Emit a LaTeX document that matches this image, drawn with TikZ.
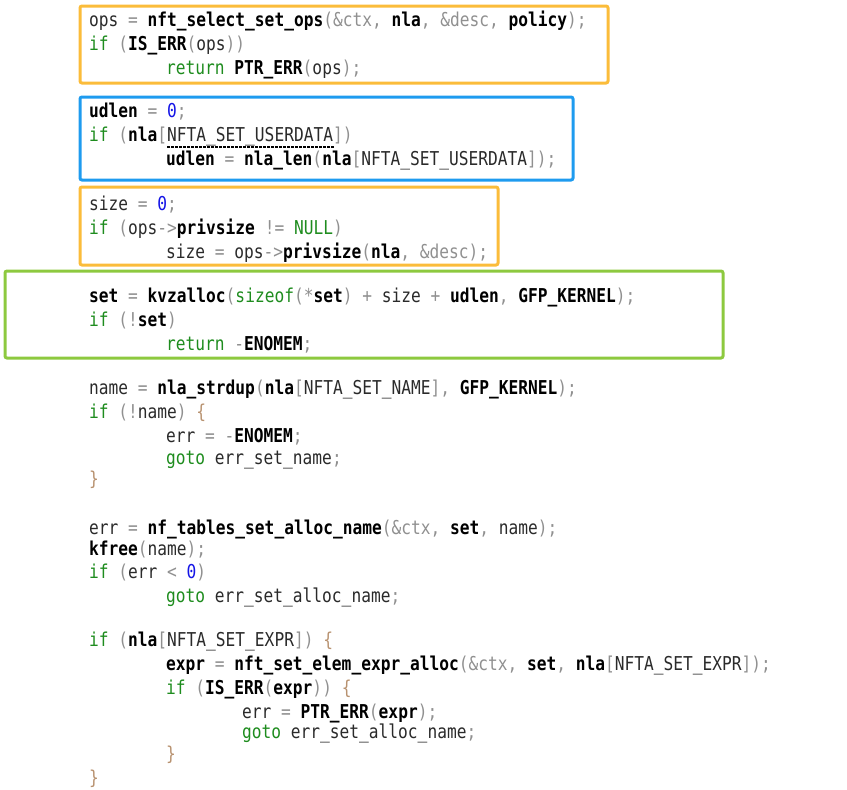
\documentclass[tikz,border=0pt]{standalone}
\usepackage{fontspec}
\usetikzlibrary{positioning}
\newfontfamily\codefont{DejaVu Sans Mono}
\definecolor{kwgreen}{HTML}{1E8C1E}
\definecolor{pungray}{HTML}{909090}
\definecolor{numblue}{HTML}{1414E6}
\definecolor{idgray}{HTML}{2A2A2A}
\definecolor{bracebrown}{HTML}{B89270}
\definecolor{boxorange}{HTML}{FBBC3A}
\definecolor{boxblue}{HTML}{1E9BEF}
\definecolor{boxgreen}{HTML}{8DC93F}
\newcommand{\kw}[1]{\textcolor{kwgreen}{#1}}
\newcommand{\pn}[1]{\textcolor{pungray}{#1}}
\newcommand{\nm}[1]{\textcolor{numblue}{#1}}
\newcommand{\fn}[1]{\textcolor{black}{\bfseries #1}}
\newcommand{\br}[1]{\textcolor{bracebrown}{#1}}
\newcommand{\tall}[1]{\scalebox{1}[1.18]{#1}}
\begin{document}
\begin{tikzpicture}[x=1pt, y=-1pt,
    code/.style={anchor=base west, inner sep=0pt, text=idgray,
      font=\codefont\fontsize{16.2}{19}\selectfont},
    codebox/.style={line width=3pt, rounded corners=2pt}]
  \useasboundingbox (0,0) rectangle (847,790);
  % ops block
  \node[code] (ops) at (89,26) {\tall{ops \pn{=} \fn{nft\_select\_set\_ops}\pn{(\&ctx,} \fn{nla}\pn{,} \pn{\&desc,} \fn{policy}\pn{);}}};
  \node[code] (opsif) at (89,50) {\tall{\kw{if} \pn{(}\fn{IS\_ERR}\pn{(}ops\pn{))}}};
  \node[code] (opsret) at (166,74) {\tall{\kw{return} \fn{PTR\_ERR}\pn{(}ops\pn{);}}};
  % udlen block
  \node[code] (udlen) at (89,117) {\tall{\fn{udlen} \pn{=} \nm{0}\pn{;}}};
  \node[code] (udif) at (89,141) {\tall{\kw{if} \pn{(}\fn{nla}\pn{[}NFTA\_SET\_USERDATA\pn{])}}};
  \node[code] (udset) at (166,165) {\tall{\fn{udlen} \pn{=} \fn{nla\_len}\pn{(}\fn{nla}\pn{[}NFTA\_SET\_USERDATA\pn{]);}}};
  % size block
  \node[code] (size) at (89,210) {\tall{size \pn{=} \nm{0}\pn{;}}};
  \node[code] (sizeif) at (89,234) {\tall{\kw{if} \pn{(}ops\pn{->}\fn{privsize} \pn{!=} \kw{NULL}\pn{)}}};
  \node[code] (sizeset) at (166,258) {\tall{size \pn{=} ops\pn{->}\fn{privsize}\pn{(}\fn{nla}\pn{,} \pn{\&desc);}}};
  % set block
  \node[code] (set) at (89,302) {\tall{\fn{set} \pn{=} \fn{kvzalloc}\pn{(}\kw{sizeof}\pn{(*}\fn{set}\pn{)} \pn{+} size \pn{+} \fn{udlen}\pn{,} \fn{GFP\_KERNEL}\pn{);}}};
  \node[code] (setif) at (89,326) {\tall{\kw{if} \pn{(!}\fn{set}\pn{)}}};
  \node[code] (setret) at (166,350) {\tall{\kw{return} \pn{-}\fn{ENOMEM}\pn{;}}};
  % name block
  \node[code] (name) at (89,394) {\tall{name \pn{=} \fn{nla\_strdup}\pn{(}\fn{nla}\pn{[}NFTA\_SET\_NAME\pn{],} \fn{GFP\_KERNEL}\pn{);}}};
  \node[code] (nameif) at (89,418) {\tall{\kw{if} \pn{(!}name\pn{)} \br{\{}}};
  \node[code] (nameerr) at (166,442) {\tall{err \pn{=} \pn{-}\fn{ENOMEM}\pn{;}}};
  \node[code] (namegoto) at (166,464) {\tall{\kw{goto} err\_set\_name\pn{;}}};
  \node[code] (nameend) at (89,485) {\tall{\br{\}}}};
  % alloc name block
  \node[code] (alloc) at (89,534) {\tall{err \pn{=} \fn{nf\_tables\_set\_alloc\_name}\pn{(\&ctx,} \fn{set}\pn{,} name\pn{);}}};
  \node[code] (kfree) at (89,555) {\tall{\fn{kfree}\pn{(}name\pn{);}}};
  \node[code] (allocif) at (89,578) {\tall{\kw{if} \pn{(}err \pn{<} \nm{0}\pn{)}}};
  \node[code] (allocgoto) at (166,602) {\tall{\kw{goto} err\_set\_alloc\_name\pn{;}}};
  % expr block
  \node[code] (exprif) at (89,646) {\tall{\kw{if} \pn{(}\fn{nla}\pn{[}NFTA\_SET\_EXPR\pn{])} \br{\{}}};
  \node[code] (expr) at (166,670) {\tall{\fn{expr} \pn{=} \fn{nft\_set\_elem\_expr\_alloc}\pn{(\&ctx,} \fn{set}\pn{,} \fn{nla}\pn{[}NFTA\_SET\_EXPR\pn{]);}}};
  \node[code] (exprerrif) at (166,694) {\tall{\kw{if} \pn{(}\fn{IS\_ERR}\pn{(}\fn{expr}\pn{))} \br{\{}}};
  \node[code] (exprerr) at (242,718) {\tall{err \pn{=} \fn{PTR\_ERR}\pn{(}\fn{expr}\pn{);}}};
  \node[code] (exprgoto) at (242,738) {\tall{\kw{goto} err\_set\_alloc\_name\pn{;}}};
  \node[code] (exprend) at (166,760) {\tall{\br{\}}}};
  \node[code] (ifend) at (89,784) {\tall{\br{\}}}};
  % boxes
  \draw[codebox, boxorange] (80,6) rectangle (608,83);
  \draw[codebox, boxblue] (80,97) rectangle (573,180);
  \draw[codebox, boxorange] (80,187) rectangle (498,265);
  \draw[codebox, boxgreen] (5,271) rectangle (723,358);
  \draw[line width=2.5pt, dash pattern=on 2.5pt off 1.5pt] (167,147) -- (334,147);
\end{tikzpicture}
\end{document}
